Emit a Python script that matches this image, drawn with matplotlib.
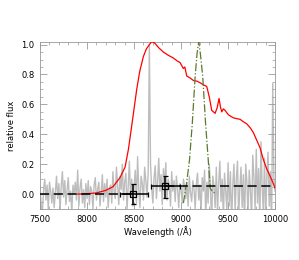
"""
Spectrum with filter curves and photometry points.
"""
import numpy as np
import matplotlib
matplotlib.use("Agg")
import matplotlib.pyplot as plt
from matplotlib.ticker import MultipleLocator

# ---------DATA------------
spec_start = 7500.0
spec_step = 12.5
spec_flux = [
    0.05, -0.08, -0.12, 0.03, 0.10, -0.04, 0.06, -0.10, 0.08, 0.02,
    -0.06, 0.04, -0.09, 0.01, 0.12, -0.03, 0.07, -0.11, 0.05, 0.15,
    -0.02, 0.09, -0.07, 0.03, 0.11, -0.05, 0.02, -0.12, 0.06, 0.00,
    0.08, -0.04, 0.16, -0.08, 0.04, 0.10, -0.06, 0.03, -0.09, 0.07,
    -0.03, 0.09, -0.07, 0.05, 0.02, -0.10, 0.06, 0.11, -0.04, 0.03,
    0.08, -0.08, 0.01, 0.13, -0.05, 0.07, -0.02, 0.10, -0.09, 0.04,
    0.06, -0.06, 0.15, 0.02, -0.03, 0.18, 0.05, -0.07, 0.12, 0.03,
    0.20, -0.04, 0.08, 0.14, -0.11, 0.06, 0.22, -0.02, 0.10, -0.08,
    0.05, 0.16, -0.06, 0.25, 0.03, -0.09, 0.12, 0.07, -0.04, 0.18,
    0.09, -0.02, 0.14, 1.00, 0.20, 0.04, -0.06, 0.11, 0.19, -0.03,
    0.08, 0.24, 0.02, 0.13, -0.07, 0.17, 0.05, 0.21, -0.04, 0.10,
    0.06, -0.08, 0.15, 0.02, 0.09, -0.05, 0.12, 0.04, -0.09, 0.07,
    0.03, -0.06, 0.10, 0.05, -0.03, 0.08, -0.08, 0.12, 0.01, -0.05,
    0.09, 0.04, -0.10, 0.07, 0.14, -0.04, 0.06, -0.12, 0.11, 0.02,
    0.16, -0.15, 0.08, -0.06, 0.20, 0.03, -0.18, 0.12, 0.05, -0.09,
    0.18, -0.13, 0.07, 0.22, -0.05, 0.10, -0.16, 0.14, 0.02, -0.11,
    0.21, -0.08, 0.15, -0.20, 0.06, 0.20, -0.12, 0.10, 0.22, -0.15,
    0.04, 0.18, -0.09, 0.13, -0.22, 0.20, 0.08, -0.14, 0.16, 0.03,
    -0.18, 0.26, 0.11, -0.10, 0.30, -0.06, 0.17, -0.20, 0.35, 0.05,
    -0.12, 0.24, -0.17, 0.12, 0.28, -0.08, 0.15, -0.25, 0.74, 0.10,
    0.02,
]

red_wl = [7900, 8000, 8100, 8200, 8277, 8350, 8404, 8440, 8480, 8528,
          8560, 8599, 8630, 8663, 8688, 8720, 8760, 8812, 8860, 8918,
          8960, 8989, 9024, 9040, 9060, 9100, 9131, 9170, 9202, 9240,
          9273, 9300, 9326, 9345, 9362, 9385, 9404, 9420, 9433, 9450,
          9468, 9485, 9504, 9530, 9557, 9590, 9628, 9660, 9699, 9740,
          9770, 9805, 9840, 9876, 9910, 9947, 9975, 10000]
red_flux = [0.0, 0.002, 0.008, 0.025, 0.05, 0.11, 0.18, 0.30, 0.48, 0.70,
            0.82, 0.92, 0.97, 1.0, 1.02, 1.01, 0.98, 0.95, 0.93, 0.91,
            0.89, 0.88, 0.84, 0.85, 0.79, 0.775, 0.76, 0.755, 0.745, 0.73,
            0.72, 0.65, 0.56, 0.55, 0.54, 0.58, 0.64, 0.58, 0.55, 0.57,
            0.56, 0.545, 0.53, 0.52, 0.51, 0.505, 0.50, 0.485, 0.47, 0.44,
            0.41, 0.36, 0.31, 0.23, 0.17, 0.12, 0.08, 0.04]

filt_wl = [9025, 9060, 9090, 9120, 9150, 9170, 9188, 9205, 9230, 9260,
           9290, 9310, 9330, 9350, 9375]
filt_flux = [-0.06, 0.08, 0.23, 0.48, 0.79, 0.94, 1.02, 0.94, 0.79, 0.48,
             0.22, 0.04, 0.02, 0.01, 0.01]

phot_wl = [8490, 8830]
phot_flux = [0.0, 0.054]
phot_xlo = [145, 153]
phot_xhi = [160, 160]
phot_ylo = [0.063, 0.079]
phot_yhi = [0.065, 0.066]

cont_x = [[7500, 8490], [8830, 10000]]
cont_y = [[0.0, 0.0], [0.054, 0.054]]

# ---------PLOT------------
plt.rcParams["font.family"] = "DejaVu Sans"
fig = plt.figure(figsize=(2.99, 2.60), dpi=100)
ax = fig.add_axes([0.134, 0.196, 0.786, 0.644])

spec_wl = spec_start + spec_step * np.arange(len(spec_flux))
ax.plot(spec_wl, spec_flux, color="#bdbdbd", lw=1.0, zorder=1)
ax.plot(red_wl, red_flux, color="red", lw=0.9, zorder=3)
ax.plot(filt_wl, filt_flux, color="#5b7a2e", lw=0.9, ls="-.", zorder=3)

for xs, ys in zip(cont_x, cont_y):
    ax.plot(xs, ys, color="black", lw=1.1, ls=(0, (6, 3)), zorder=4)

ax.errorbar(phot_wl, phot_flux,
            xerr=[phot_xlo, phot_xhi], yerr=[phot_ylo, phot_yhi],
            fmt="s", mfc="none", mec="black", ms=4, mew=0.9,
            ecolor="black", elinewidth=1.1, capsize=1.8, capthick=1.1,
            zorder=5)

ax.set_xlim(7500, 10000)
ax.set_ylim(-0.10, 1.02)
ax.set_xticks([7500, 8000, 8500, 9000, 9500, 10000])
ax.set_yticks([0.0, 0.2, 0.4, 0.6, 0.8, 1.0])
ax.set_yticklabels(["0.0", "0.2", "0.4", "0.6", "0.8", "1.0"])
ax.xaxis.set_minor_locator(MultipleLocator(100))
ax.yaxis.set_minor_locator(MultipleLocator(0.05))
ax.tick_params(which="both", direction="in", top=True, right=True,
               color="#999999", labelsize=6, pad=4)
ax.tick_params(which="major", length=5, width=0.6)
ax.tick_params(which="minor", length=2.5, width=0.5)
for s in ax.spines.values():
    s.set_color("#999999")
    s.set_linewidth(0.6)

ax.set_xlabel("Wavelength (/Å)", fontsize=6, labelpad=2)
ax.set_ylabel("relative flux", fontsize=6, labelpad=4)

fig.savefig("out.png", dpi=100)
